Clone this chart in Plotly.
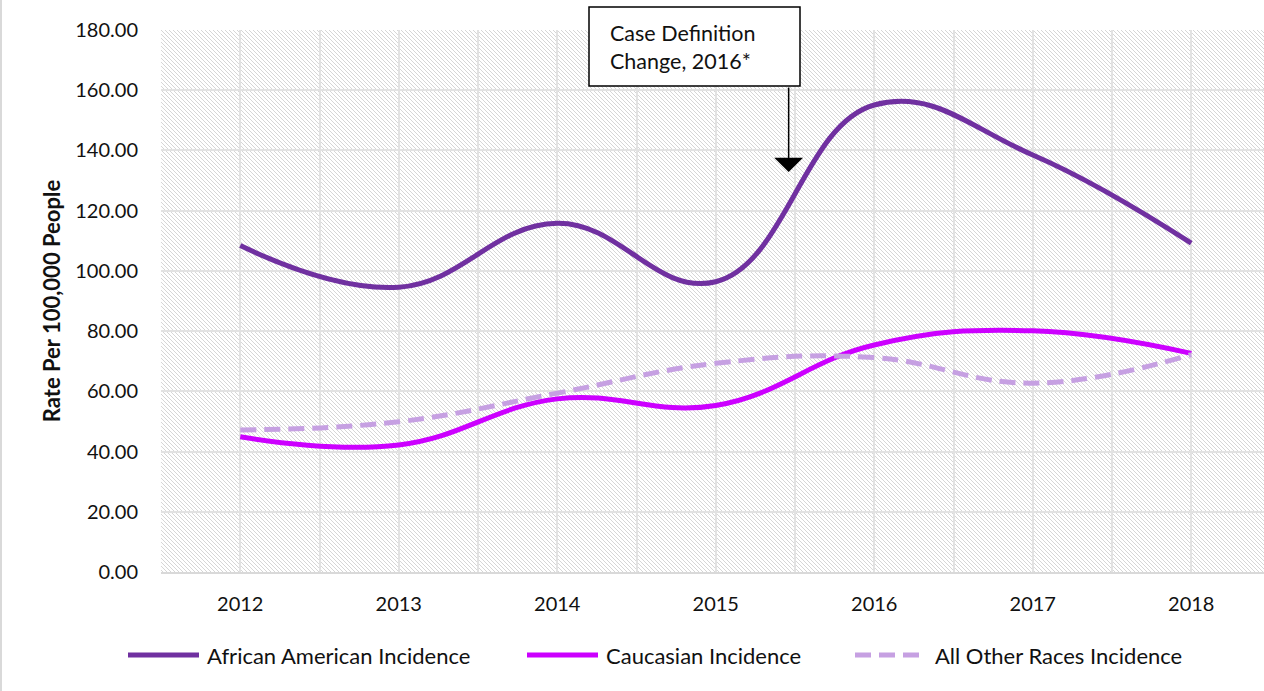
import base64
import plotly.graph_objects as go

# ---------------- data ----------------
years = [2012, 2013, 2014, 2015, 2016, 2017, 2018]
african_american = [108.4, 94.6, 115.8, 96.4, 155.1, 138.5, 109.2]
caucasian = [44.9, 42.2, 57.5, 55.3, 75.4, 80.1, 72.6]
all_other = [47.2, 49.9, 59.4, 69.3, 71.2, 62.7, 72.2]
series_names = ["African American Incidence", "Caucasian Incidence", "All Other Races Incidence"]
y_ticks = [0, 20, 40, 60, 80, 100, 120, 140, 160, 180]
y_tick_text = ["%.2f" % v for v in y_ticks]
note_lines = ["Case Definition", "Change, 2016*"]
note_x, note_y = 2015.46, 132.8   # arrow tip (data coordinates)

# ---------------- layout constants ----------------
W, H = 1264, 691
L, R, T, B = 161, 0, 30, 119
PW, PH = W - L - R, H - T - B
X0 = 2011.5
X1 = X0 + PW / 158.5
FONT = "Lato"
COLORS = ["#7030A0", "#CC00FF", "#C6A0E2"]
DASHES = ["solid", "solid", "16px,8px"]


def px2x(px):
    return (px - L) / PW


def py2y(py):
    return (H - B - py) / PH


fig = go.Figure()
for name, vals, col, dash in zip(series_names, [african_american, caucasian, all_other], COLORS, DASHES):
    fig.add_trace(go.Scatter(
        x=years, y=vals, name=name, mode="lines",
        line=dict(color=col, width=5, dash=dash, shape="spline", smoothing=1.2),
        showlegend=False, hoverinfo="x+y+name"))

# hatched plot background (SVG pattern image)
svg = (
    f'<svg xmlns="http://www.w3.org/2000/svg" width="{PW}" height="{PH}" viewBox="0 0 {PW} {PH}" preserveAspectRatio="none">'
    '<defs><pattern id="p" patternUnits="userSpaceOnUse" width="4" height="4">'
    '<path d="M-1,-1 L5,5 M-1,3 L1,5 M3,-1 L5,1" stroke="#d6d6d6" stroke-width="1"/>'
    '</pattern></defs>'
    f'<rect width="{PW}" height="{PH}" fill="white"/><rect width="{PW}" height="{PH}" fill="url(#p)"/></svg>'
)
uri = "data:image/svg+xml;base64," + base64.b64encode(svg.encode()).decode()
fig.add_layout_image(dict(source=uri, xref="paper", yref="paper", x=0, y=1, sizex=1, sizey=1,
                          xanchor="left", yanchor="top", sizing="stretch", layer="below"))

shapes = []
# annotation box
shapes.append(dict(type="rect", xref="paper", yref="paper",
                   x0=px2x(589), x1=px2x(800), y0=py2y(86), y1=py2y(7),
                   line=dict(color="black", width=1.5), fillcolor="white", layer="above"))
# left border of chart area
shapes.append(dict(type="line", xref="paper", yref="paper",
                   x0=px2x(1), x1=px2x(1), y0=py2y(0), y1=py2y(H),
                   line=dict(color="#d9d9d9", width=2)))

annotations = []
for i, t in enumerate(note_lines):
    annotations.append(dict(xref="paper", yref="paper", x=px2x(608), y=py2y(33 + 28 * i),
                            xanchor="left", yanchor="middle", text=t, showarrow=False,
                            font=dict(family=FONT, size=21.5, color="#111111")))
annotations.append(dict(x=note_x, y=note_y, xref="x", yref="y", text="", showarrow=True,
                        ax=0, ay=-86, arrowhead=1, arrowsize=3.2, arrowwidth=1.5,
                        arrowcolor="black", standoff=0))

# custom legend
leg_y = py2y(655)
leg_items = [(128, 199, 205), (527, 598, 604), (855, 920, 933)]
for (sx0, sx1, tx), name, col, dash in zip(leg_items, series_names, COLORS, DASHES):
    shapes.append(dict(type="line", xref="paper", yref="paper", x0=px2x(sx0), x1=px2x(sx1),
                       y0=leg_y, y1=leg_y, line=dict(color=col, width=5, dash=dash)))
    annotations.append(dict(xref="paper", yref="paper", x=px2x(tx), y=leg_y, xanchor="left",
                            yanchor="middle", text=name, showarrow=False,
                            font=dict(family=FONT, size=22, color="#111111")))

fig.update_layout(
    width=W, height=H,
    margin=dict(l=L, r=R, t=T, b=B, pad=0),
    paper_bgcolor="white", plot_bgcolor="white",
    font=dict(family=FONT, size=20, color="#111111"),
    showlegend=False,
    shapes=shapes, annotations=annotations,
    xaxis=dict(range=[X0, X1], tickvals=years, ticktext=[str(y) for y in years],
               showgrid=True, gridcolor="#e2e2e2", gridwidth=2,
               minor=dict(tickvals=[y - 0.5 for y in years] + [years[-1] + 0.5],
                          showgrid=True, gridcolor="#e2e2e2", gridwidth=2),
               showline=True, linecolor="#d9d9d9", linewidth=2,
               ticks="", ticklabelstandoff=13, zeroline=False,
               tickfont=dict(family=FONT, size=20, color="#111111")),
    yaxis=dict(range=[0, 180], tickvals=y_ticks, ticktext=y_tick_text,
               showgrid=True, gridcolor="#e2e2e2", gridwidth=2, zeroline=False,
               showline=False, ticks="", ticklabelstandoff=22,
               tickfont=dict(family=FONT, size=20, color="#111111"),
               title=dict(text="<b>Rate Per 100,000 People</b>", standoff=8,
                          font=dict(family=FONT, size=22, color="#111111"))),
)

fig.write_html("out.html", config={"displayModeBar": False},
               post_script="document.body.style.margin='0';")
